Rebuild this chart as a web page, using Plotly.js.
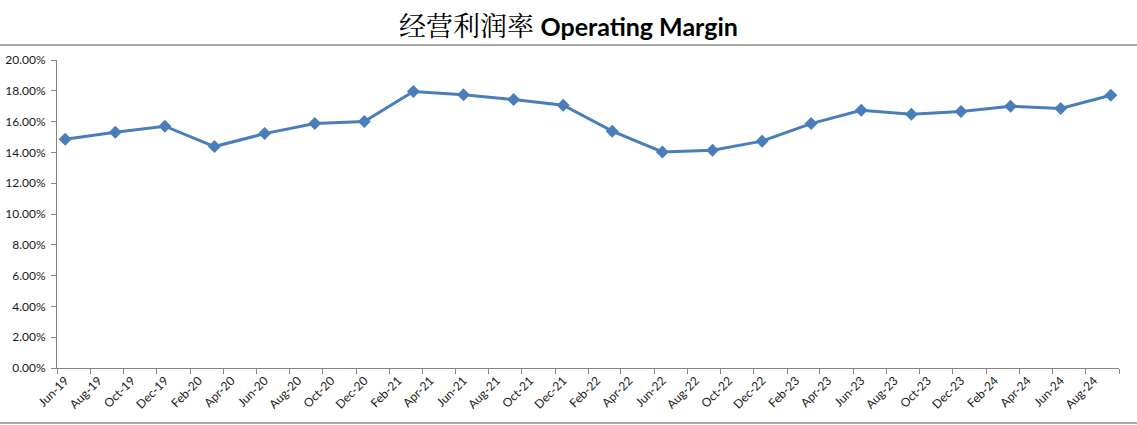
<!DOCTYPE html>
<html>
<head>
<meta charset="utf-8">
<script src="https://cdn.plot.ly/plotly-3.0.1.min.js"></script>
<style>
html,body{margin:0;padding:0;background:#fff;}
#chart{width:1137px;height:425px;}
</style>
</head>
<body>
<div id="chart"></div>
<script>
// Quarter-end months of each observation
var periods = ['2019-06','2019-09','2019-12','2020-03','2020-06','2020-09','2020-12',
  '2021-03','2021-06','2021-09','2021-12','2022-03','2022-06','2022-09','2022-12',
  '2023-03','2023-06','2023-09','2023-12','2024-03','2024-06','2024-09'];
// Operating margin (fraction)
var margin = [0.1486,0.1531,0.1570,0.1438,0.1522,0.1587,0.1600,
  0.1795,0.1775,0.1743,0.1706,0.1538,0.1403,0.1414,0.1473,
  0.1587,0.1674,0.1648,0.1665,0.1700,0.1685,0.1771];
// X tick labels (every two months)
var tickLabels = ['Jun-19','Aug-19','Oct-19','Dec-19','Feb-20','Apr-20','Jun-20','Aug-20',
  'Oct-20','Dec-20','Feb-21','Apr-21','Jun-21','Aug-21','Oct-21','Dec-21','Feb-22','Apr-22',
  'Jun-22','Aug-22','Oct-22','Dec-22','Feb-23','Apr-23','Jun-23','Aug-23','Oct-23','Dec-23',
  'Feb-24','Apr-24','Jun-24','Aug-24'];

var monthNum = {Jan:'01',Feb:'02',Mar:'03',Apr:'04',May:'05',Jun:'06',Jul:'07',Aug:'08',Sep:'09',Oct:'10',Nov:'11',Dec:'12'};
function labelToDate(l){ var p=l.split('-'); return '20'+p[1]+'-'+monthNum[p[0]]+'-16'; }
var xDates = periods.map(function(p){ return p+'-16'; });
var tickVals = tickLabels.map(labelToDate);

var W=1137,H=425, mL=57, mR=18, mT=60, mB=57;
var pw=W-mL-mR, ph=H-mT-mB;
function px(x){ return (x-mL)/pw; }
function py(y){ return (H-mB-y)/ph; }

var trace = {
  x: xDates, y: margin, type:'scatter', mode:'lines+markers',
  line:{color:'#4A7EBB', width:3},
  marker:{symbol:'diamond', size:10, color:'#4A7EBB'},
  hoverinfo:'x+y'
};

var tickFont = {family:'Lato, "Liberation Sans", sans-serif', size:12, color:'#1a1a1a'};

var layout = {
  width:W, height:H,
  margin:{l:mL, r:mR, t:mT, b:mB},
  paper_bgcolor:'#fff', plot_bgcolor:'#fff',
  showlegend:false,
  title:{
    text:'<span style="font-family:\'Noto Serif CJK SC\',\'Noto Sans CJK SC\';font-weight:normal;font-size:27px">经营利润率</span> <b>Operating Margin</b>',
    font:{family:'Lato, "Noto Sans CJK SC", sans-serif', size:25, color:'#000'},
    x:0.5, xref:'container', xanchor:'center',
    y:1-27/H, yref:'container', yanchor:'middle'
  },
  xaxis:{
    type:'date',
    range:['2019-06-01','2024-10-01'],
    tickmode:'array', tickvals:tickVals, ticktext:tickLabels,
    tickangle:-45, ticks:'', tickfont:tickFont,
    minor:{dtick:'M2', tick0:'2019-06-01', ticks:'outside', ticklen:5, tickcolor:'#868686', tickwidth:1, showgrid:false},
    showline:true, linecolor:'#868686', linewidth:1,
    showgrid:false, zeroline:false, fixedrange:true
  },
  yaxis:{
    range:[0,0.2], dtick:0.02, tick0:0, tickformat:'.2%',
    ticks:'outside', ticklen:5, tickcolor:'#868686', tickwidth:1,
    tickfont:tickFont, ticklabelstandoff:3,
    showline:true, linecolor:'#868686', linewidth:1,
    showgrid:false, zeroline:false, fixedrange:true
  },
  shapes:[
    {type:'line', xref:'paper', yref:'paper', x0:px(0), x1:px(W), y0:py(45), y1:py(45), line:{color:'#8c8c8c', width:1.5}},
    {type:'line', xref:'paper', yref:'paper', x0:px(0), x1:px(W), y0:py(423), y1:py(423), line:{color:'#8c8c8c', width:1.5}}
  ]
};

Plotly.newPlot('chart',[trace],layout,{displayModeBar:false, staticPlot:true});
</script>
</body>
</html>
